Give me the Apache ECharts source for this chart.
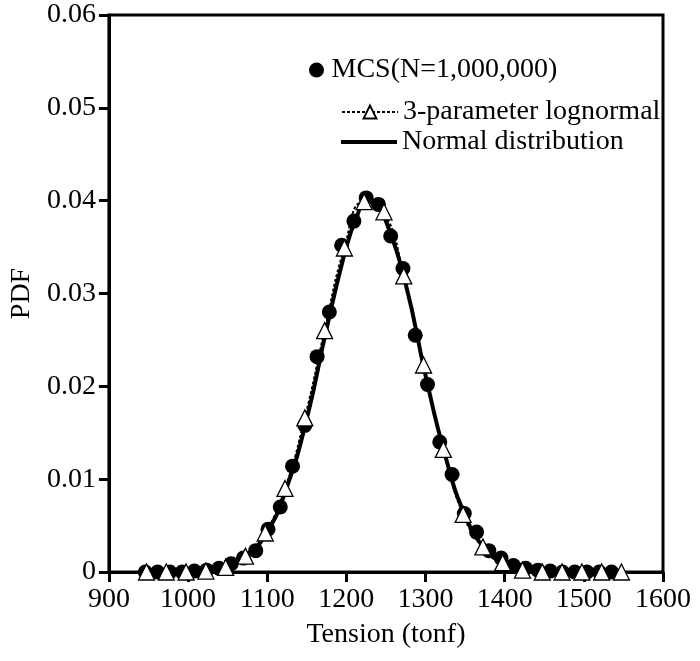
<!DOCTYPE html>
<html>
<head>
<meta charset="utf-8">
<script src="https://cdn.jsdelivr.net/npm/echarts@6/dist/echarts.min.js"></script>
<style>html,body{margin:0;padding:0;background:#fff}#c{width:700px;height:661px}</style>
</head>
<body>
<div id="c"></div>
<script>
// MCS (N=1,000,000) sample points
const mcsX = [946, 961.5, 977, 992.5, 1008, 1023.5, 1039, 1054.5, 1070, 1085.5, 1101, 1116.5, 1132, 1147.5, 1163, 1178.5, 1194, 1209.5, 1225, 1240.5, 1256, 1271.5, 1287, 1302.5, 1318, 1333.5, 1349, 1364.5, 1380, 1395.5, 1411, 1426.5, 1442, 1457.5, 1473, 1488.5, 1504, 1519.5, 1535];
const mcsY = [0, 0, 0, 0, 0.0001, 0.0002, 0.0004, 0.0009, 0.0015, 0.0023, 0.0046, 0.0070, 0.0114, 0.0158, 0.0232, 0.0280, 0.0352, 0.0378, 0.0403, 0.0396, 0.0362, 0.0327, 0.0255, 0.0202, 0.0140, 0.0105, 0.0063, 0.0043, 0.0023, 0.0015, 0.0007, 0.0004, 0.0002, 0.0001, 0, 0, 0, 0, 0];
// 3-parameter lognormal
const lognX = [947.5, 972.5, 997.5, 1022.5, 1047.5, 1072.5, 1097.5, 1122.5, 1147.5, 1172.5, 1197.5, 1222.5, 1247.5, 1272.5, 1297.5, 1322.5, 1347.5, 1372.5, 1397.5, 1422.5, 1447.5, 1472.5, 1497.5, 1522.5, 1547.5];
const lognY = [0, 0, 0, 0.0001, 0.0005, 0.0017, 0.0042, 0.0090, 0.0166, 0.0260, 0.0349, 0.0399, 0.0388, 0.0319, 0.0223, 0.0132, 0.0062, 0.0027, 0.0010, 0.0002, 0, 0, 0, 0, 0];
// Normal distribution curve
const normX = [1000, 1025, 1050, 1075, 1100, 1125, 1150, 1175, 1200, 1212.5, 1225, 1237.5, 1250, 1275, 1300, 1325, 1350, 1375, 1400, 1425, 1450];
const normY = [0, 0.0002, 0.0007, 0.0019, 0.0043, 0.0092, 0.0165, 0.0262, 0.0350, 0.0381, 0.0399, 0.0397, 0.0378, 0.0310, 0.0212, 0.0125, 0.0061, 0.0025, 0.0009, 0.0002, 0];
const seriesNames = ['MCS(N=1,000,000)', '3-parameter lognormal', 'Normal distribution'];
const xTicks = {min: 900, max: 1600, step: 100};
const yTicks = {min: 0, max: 0.06, step: 0.01};

const zip = (a, b) => a.map((v, i) => [v, b[i]]);
const FONT = '"Liberation Serif", "Times New Roman", serif';
const FS = 28;
const txt = {fontFamily: FONT, fontSize: FS, color: '#000'};
const chart = echarts.init(document.getElementById('c'), null, {renderer: 'canvas'});
chart.setOption({
  animation: false,
  backgroundColor: '#fff',
  grid: {left: 107, right: 37, top: 15, bottom: 89, show: true, borderColor: '#000', borderWidth: 3, backgroundColor: 'transparent'},
  legend: [{
    data: [seriesNames[0]],
    left: 304, top: 51, itemWidth: 20, itemHeight: 15, itemGap: 10,
    textStyle: txt
  }, {
    data: [seriesNames[1]],
    left: 336, top: 93, itemWidth: 56, itemHeight: 16,
    textStyle: txt
  }, {
    data: [{name: seriesNames[2], icon: 'rect'}],
    left: 336, top: 123, itemWidth: 56, itemHeight: 4,
    textStyle: txt
  }],
  xAxis: {
    type: 'value', min: xTicks.min, max: xTicks.max, interval: xTicks.step,
    name: 'Tension (tonf)', nameLocation: 'middle', nameGap: 49,
    nameTextStyle: txt,
    axisLine: {show: true, lineStyle: {color: '#000', width: 3}},
    axisTick: {show: true, inside: false, length: 10, lineStyle: {color: '#000', width: 3}},
    axisLabel: Object.assign({margin: 14, formatter: v => String(v)}, txt),
    splitLine: {show: false}
  },
  yAxis: {
    type: 'value', min: yTicks.min, max: yTicks.max, interval: yTicks.step,
    name: 'PDF', nameLocation: 'middle', nameGap: 71,
    nameTextStyle: txt,
    axisLine: {show: true, lineStyle: {color: '#000', width: 3}},
    axisTick: {show: true, inside: false, length: 10, lineStyle: {color: '#000', width: 3}},
    axisLabel: Object.assign({margin: 13, formatter: v => (Math.round(v * 100) / 100).toString()}, txt),
    splitLine: {show: false}
  },
  series: [{
    name: seriesNames[2], type: 'line', data: zip(normX, normY), smooth: true,
    symbol: 'none', lineStyle: {color: '#000', width: 4}, itemStyle: {color: '#000'}, z: 2
  }, {
    name: seriesNames[0], type: 'scatter', data: zip(mcsX, mcsY),
    symbol: 'circle', symbolSize: 15, itemStyle: {color: '#000', opacity: 1}, z: 3
  }, {
    name: seriesNames[1], type: 'line', data: zip(lognX, lognY), smooth: true,
    symbol: 'triangle', symbolSize: 16, showAllSymbol: true,
    lineStyle: {color: '#000', width: 2, type: [3, 2]},
    itemStyle: {color: '#fff', borderColor: '#000', borderWidth: 1.3}, z: 4
  }]
});
</script>
</body>
</html>
